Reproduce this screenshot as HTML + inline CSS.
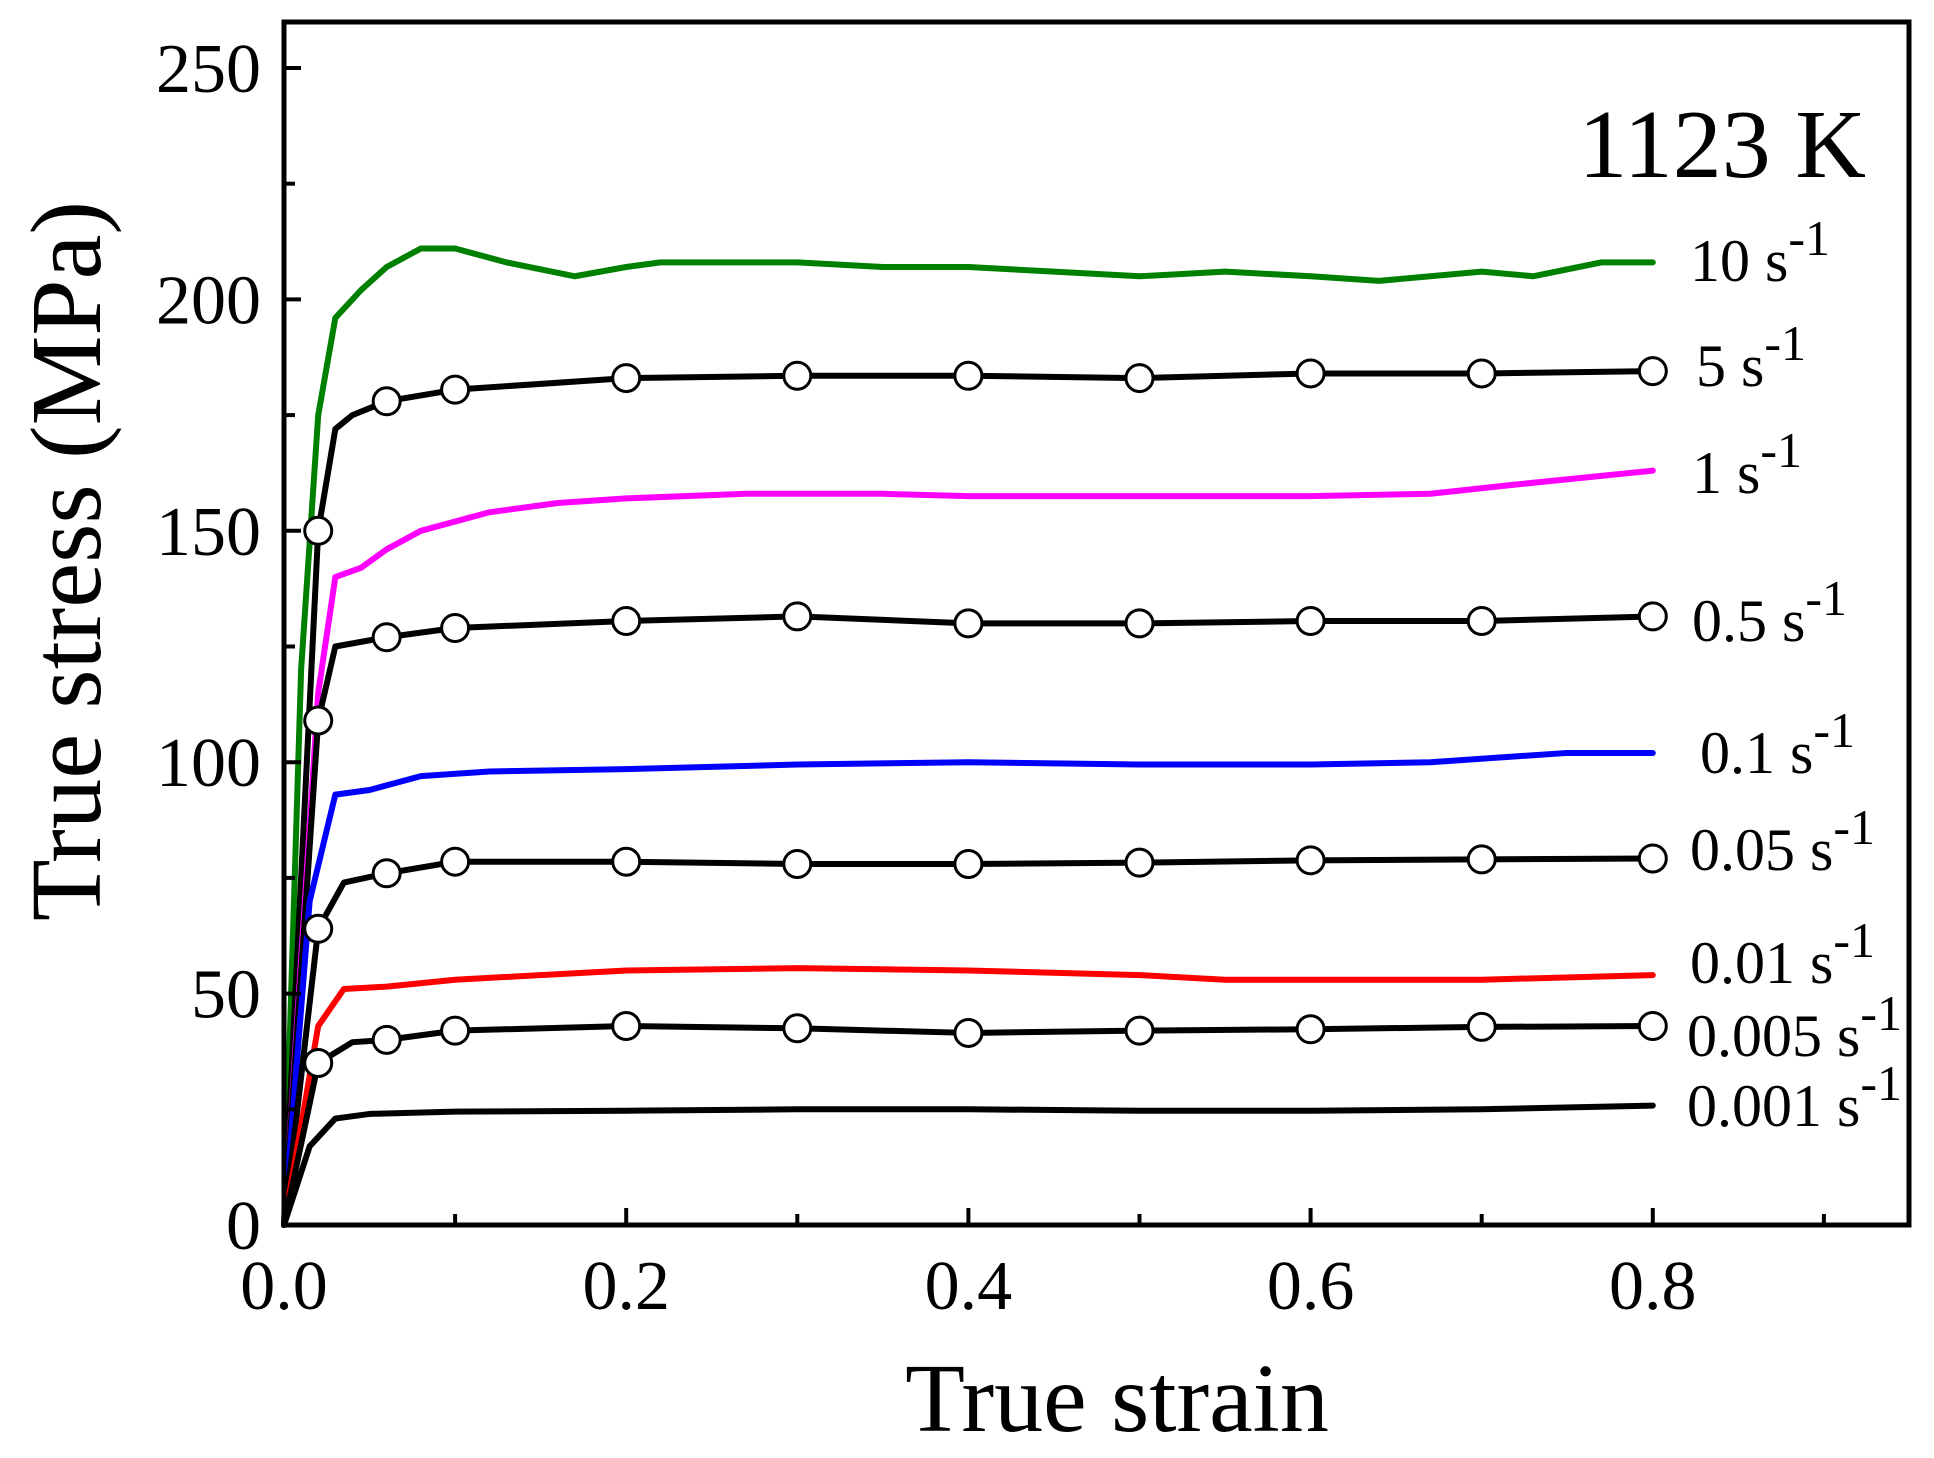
<!DOCTYPE html>
<html><head><meta charset="utf-8"><style>
html,body{margin:0;padding:0;background:#fff}
svg{display:block}
text{font-family:"Liberation Serif",serif;fill:#000}
</style></head><body>
<svg id="chart" width="1934" height="1458" viewBox="0 0 1934 1458">
<g id="marks"></g>
<rect x="284" y="22" width="1625" height="1203" fill="none" stroke="#000" stroke-width="5"/>
<g id="axes"></g>
<text x="1866" y="177" font-size="98" text-anchor="end">1123 K</text>
<text x="1117" y="1431" font-size="98" text-anchor="middle">True strain</text>
<text transform="translate(100,561) rotate(-90)" font-size="101" text-anchor="middle">True stress (MPa)</text>
</svg>
<script>
const xTicks=[0,0.2,0.4,0.6,0.8];
const xTickLabels=["0.0","0.2","0.4","0.6","0.8"];
const xMinor=[0.1,0.3,0.5,0.7,0.9];
const yTicks=[0,50,100,150,200,250];
const yMinor=[25,75,125,175,225];
const rateLabels=["10","5","1","0.5","0.1","0.05","0.01","0.005","0.001"];
const s10=[[0,0],[0.01,120],[0.02,175],[0.03,196],[0.045,202],[0.06,207],[0.08,211],[0.1,211],[0.13,208],[0.17,205],[0.2,207],[0.22,208],[0.3,208],[0.35,207],[0.4,207],[0.45,206],[0.5,205],[0.55,206],[0.6,205],[0.64,204],[0.7,206],[0.73,205],[0.77,208],[0.8,208]];
const s5=[[0,0],[0.02,150],[0.03,172],[0.04,175],[0.06,178],[0.1,180.5],[0.2,183],[0.3,183.5],[0.4,183.5],[0.5,183],[0.6,184],[0.7,184],[0.8,184.5]];
const s1=[[0,0],[0.02,115],[0.03,140],[0.045,142],[0.06,146],[0.08,150],[0.12,154],[0.16,156],[0.2,157],[0.27,158],[0.35,158],[0.4,157.5],[0.5,157.5],[0.6,157.5],[0.67,158],[0.72,160],[0.8,163]];
const s05=[[0,0],[0.02,109],[0.03,125],[0.06,127],[0.1,129],[0.2,130.5],[0.3,131.5],[0.4,130],[0.5,130],[0.6,130.5],[0.7,130.5],[0.8,131.5]];
const s01=[[0,0],[0.015,70],[0.03,93],[0.05,94],[0.08,97],[0.12,98],[0.2,98.5],[0.3,99.5],[0.4,100],[0.5,99.5],[0.6,99.5],[0.67,100],[0.75,102],[0.8,102]];
const s005=[[0,0],[0.02,64],[0.035,74],[0.06,76],[0.1,78.5],[0.2,78.5],[0.3,78],[0.4,78],[0.5,78.3],[0.6,78.8],[0.7,79],[0.8,79.2]];
const s001=[[0,0],[0.02,43],[0.035,51],[0.06,51.5],[0.1,53],[0.2,55],[0.3,55.5],[0.4,55],[0.5,54],[0.55,53],[0.65,53],[0.7,53],[0.8,54]];
const s0005=[[0,0],[0.02,35],[0.04,39.5],[0.06,40],[0.1,42],[0.2,43],[0.3,42.5],[0.4,41.5],[0.5,42],[0.6,42.3],[0.7,42.8],[0.8,43]];
const s0001=[[0,0],[0.015,17],[0.03,23],[0.05,24],[0.1,24.5],[0.2,24.7],[0.3,25],[0.4,25],[0.5,24.7],[0.6,24.7],[0.7,25],[0.8,25.8]];
const markerX=[0.02,0.06,0.1,0.2,0.3,0.4,0.5,0.6,0.7,0.8];

const NS="http://www.w3.org/2000/svg";
const X=v=>284+v*1711;
const Y=v=>1225-v*4.628;
const marks=document.getElementById('marks');
const axes=document.getElementById('axes');
function mk(t,a,p){const e=document.createElementNS(NS,t);for(const k in a)e.setAttribute(k,a[k]);p.appendChild(e);return e;}
function interp(s,x){for(let i=1;i<s.length;i++){if(x<=s[i][0]){const a=s[i-1],b=s[i];return a[1]+(b[1]-a[1])*(x-a[0])/(b[0]-a[0]);}}return s[s.length-1][1];}

const series=[
 {d:s10,c:"#008000",m:false,n:"10"},
 {d:s5,c:"#000",m:true,n:"5"},
 {d:s1,c:"#ff00ff",m:false,n:"1"},
 {d:s05,c:"#000",m:true,n:"0.5"},
 {d:s01,c:"#0000ff",m:false,n:"0.1"},
 {d:s005,c:"#000",m:true,n:"0.05"},
 {d:s001,c:"#ff0000",m:false,n:"0.01"},
 {d:s0005,c:"#000",m:true,n:"0.005"},
 {d:s0001,c:"#000",m:false,n:"0.001"}];
series.forEach(s=>{
 const p=mk('polyline',{points:s.d.map(q=>X(q[0])+','+Y(q[1])).join(' '),fill:'none',stroke:s.c,'stroke-width':6,'stroke-linejoin':'round','stroke-linecap':'round'},marks);
 
 
});
series.filter(s=>s.m).forEach(s=>{
 markerX.forEach(mx=>{
  const c=mk('circle',{cx:X(mx),cy:Y(interp(s.d,mx)),r:13.5,fill:'#fff',stroke:'#000','stroke-width':3},marks);
  
  
 });
});
const labPos=[[1690,281],[1696,386],[1692,493],[1692,641],[1700,773],[1690,870],[1690,983],[1687,1056],[1687,1126]];
rateLabels.forEach((r,i)=>{
 const t=mk('text',{x:labPos[i][0],y:labPos[i][1],'font-size':60},axes);
 
 
 t.textContent=r+' s';
 const sp=document.createElementNS(NS,'tspan');sp.setAttribute('dy','-26');sp.setAttribute('font-size','50');sp.textContent='-1';t.appendChild(sp);
});
xTicks.forEach((v,i)=>{
 const l=mk('line',{x1:X(v),x2:X(v),y1:1225,y2:1208,stroke:'#000','stroke-width':4},axes);
 
 const t=mk('text',{x:X(v),y:1309,'font-size':70,'text-anchor':'middle'},axes);
 
 t.textContent=xTickLabels[i];
});
xMinor.forEach(v=>{
 const l=mk('line',{x1:X(v),x2:X(v),y1:1225,y2:1214,stroke:'#000','stroke-width':4},axes);
 
});
yTicks.forEach(v=>{
 const l=mk('line',{x1:284,x2:301,y1:Y(v),y2:Y(v),stroke:'#000','stroke-width':4},axes);
 
 const t=mk('text',{x:261,y:Y(v)+24,'font-size':70,'text-anchor':'end'},axes);
 
 t.textContent=String(v);
});
yMinor.forEach(v=>{
 const l=mk('line',{x1:284,x2:295,y1:Y(v),y2:Y(v),stroke:'#000','stroke-width':4},axes);
 
});
</script>
</body></html>
